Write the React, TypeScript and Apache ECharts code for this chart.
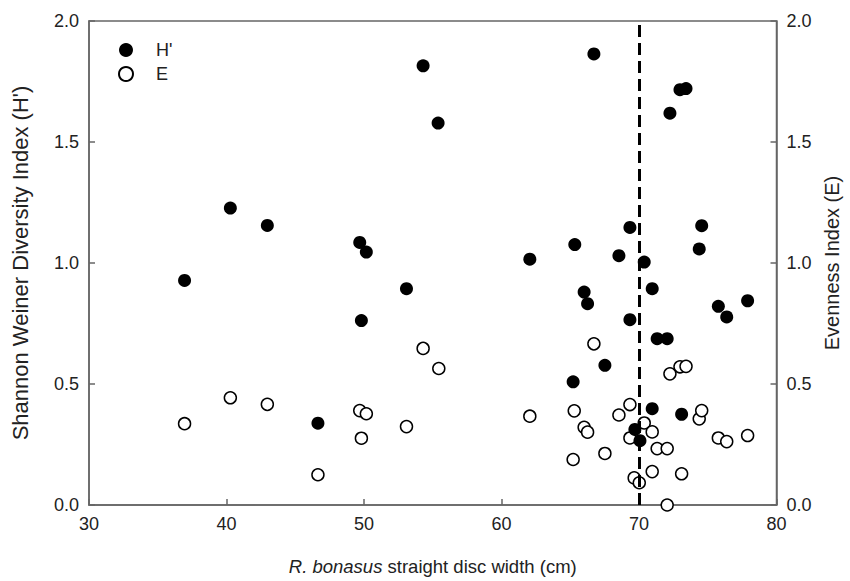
import React, { useEffect, useRef } from "react";
import * as echarts from "echarts";

const discWidthH = [36.95, 40.28, 42.97, 46.65, 49.69, 50.17, 49.81, 53.09, 54.3, 55.39, 62.06, 65.33, 65.21, 66.01, 66.26, 66.72, 67.52, 68.54, 69.34, 69.34, 69.7, 70.07, 70.38, 70.96, 70.96, 71.32, 72.05, 72.25, 72.98, 73.42, 73.1, 74.38, 74.56, 75.77, 76.38, 77.9];
const shannonH = [0.928, 1.227, 1.155, 0.338, 1.085, 1.045, 0.762, 0.894, 1.815, 1.578, 1.016, 1.076, 0.509, 0.88, 0.832, 1.864, 0.577, 1.03, 1.147, 0.766, 0.312, 0.266, 1.004, 0.894, 0.398, 0.687, 0.687, 1.619, 1.716, 1.721, 0.375, 1.058, 1.154, 0.821, 0.777, 0.844];

const discWidthE = [36.95, 40.28, 42.97, 46.65, 49.69, 50.17, 49.81, 53.09, 54.3, 55.44, 62.06, 65.29, 65.21, 66.01, 66.26, 66.72, 67.52, 68.54, 69.34, 69.34, 69.65, 70.02, 70.38, 70.96, 70.96, 71.32, 72.05, 72.25, 72.98, 73.42, 73.1, 74.38, 74.56, 75.77, 76.38, 77.9, 72.05];
const evennessE = [0.336, 0.443, 0.416, 0.125, 0.39, 0.377, 0.276, 0.324, 0.647, 0.564, 0.367, 0.389, 0.188, 0.321, 0.301, 0.666, 0.213, 0.372, 0.415, 0.277, 0.112, 0.092, 0.339, 0.302, 0.138, 0.233, 0.233, 0.542, 0.571, 0.573, 0.129, 0.356, 0.39, 0.277, 0.262, 0.287, 0.0];

const thresholdWidth = [70];

const FONT = "'Liberation Sans', Arial, sans-serif";
const AXIS_COLOR = "#666";
const TEXT_COLOR = "#222";

export default function App() {
  const ref = useRef<HTMLDivElement>(null);

  useEffect(() => {
    if (!ref.current) return;
    const chart = echarts.init(ref.current, undefined, { renderer: "svg" });

    const yAxisBase = (position: "left" | "right", name: string, gap: number, nameSize: number) => ({
      type: "value",
      position,
      min: 0,
      max: 2,
      interval: 0.5,
      name,
      nameLocation: "middle",
      nameRotate: 90,
      nameGap: gap,
      nameTextStyle: { fontFamily: FONT, fontSize: nameSize, color: TEXT_COLOR },
      axisLine: { show: true, lineStyle: { color: AXIS_COLOR, width: 1.5 } },
      axisTick: { show: true, inside: true, length: 6, lineStyle: { color: AXIS_COLOR, width: 1.5 } },
      axisLabel: {
        fontFamily: FONT,
        fontSize: 18,
        color: TEXT_COLOR,
        margin: 10,
        formatter: (v: number) => v.toFixed(1),
      },
      splitLine: { show: false },
    });

    chart.setOption({
      animation: false,
      backgroundColor: "#fff",
      grid: {
        left: 89,
        right: 73.5,
        top: 21,
        bottom: 76,
        outerBoundsMode: "none",
        containLabel: false,
        show: true,
        borderColor: AXIS_COLOR,
        borderWidth: 1.5,
      },
      legend: {
        orient: "vertical",
        left: 113,
        top: 36,
        itemWidth: 14,
        itemHeight: 14,
        itemGap: 6,
        selectedMode: false,
        textStyle: { fontFamily: FONT, fontSize: 18, color: TEXT_COLOR, padding: [0, 0, 0, 18] },
        data: [
          { name: "H'", icon: "circle" },
          { name: "E", icon: "circle" },
        ],
      },
      xAxis: {
        type: "value",
        min: 30,
        max: 80,
        interval: 10,
        name: "{i|R. bonasus} straight disc width (cm)",
        nameLocation: "middle",
        nameGap: 52,
        nameTextStyle: {
          fontFamily: FONT,
          fontSize: 18.5,
          color: TEXT_COLOR,
          rich: { i: { fontFamily: FONT, fontSize: 18.5, fontStyle: "italic", color: TEXT_COLOR } },
        },
        axisLine: { show: true, lineStyle: { color: AXIS_COLOR, width: 1.5 } },
        axisTick: { show: true, inside: true, length: 6, lineStyle: { color: AXIS_COLOR, width: 1.5 } },
        axisLabel: { fontFamily: FONT, fontSize: 18, color: TEXT_COLOR, margin: 10 },
        splitLine: { show: false },
      },
      yAxis: [
        yAxisBase("left", "Shannon Weiner Diversity Index (H')", 58, 22),
        yAxisBase("right", "Evenness Index (E)", 36, 20),
      ],
      series: [
        {
          name: "E",
          type: "scatter",
          yAxisIndex: 1,
          symbol: "circle",
          symbolSize: 12,
          itemStyle: { color: "#fff", borderColor: "#000", borderWidth: 1.5, opacity: 1 },
          data: discWidthE.map((x, i) => [x, evennessE[i]]),
          markLine: {
            silent: true,
            symbol: "none",
            label: { show: false },
            lineStyle: { color: "#000", width: 3, type: [12, 6] },
            data: thresholdWidth.map((x) => ({ xAxis: x })),
          },
        },
        {
          name: "H'",
          type: "scatter",
          yAxisIndex: 0,
          symbol: "circle",
          symbolSize: 13,
          itemStyle: { color: "#000", opacity: 1 },
          data: discWidthH.map((x, i) => [x, shannonH[i]]),
        },
      ],
    });

    return () => chart.dispose();
  }, []);

  return (
    <div
      ref={ref}
      style={{ position: "fixed", left: 0, top: 0, width: 850, height: 581, background: "#fff" }}
    />
  );
}
